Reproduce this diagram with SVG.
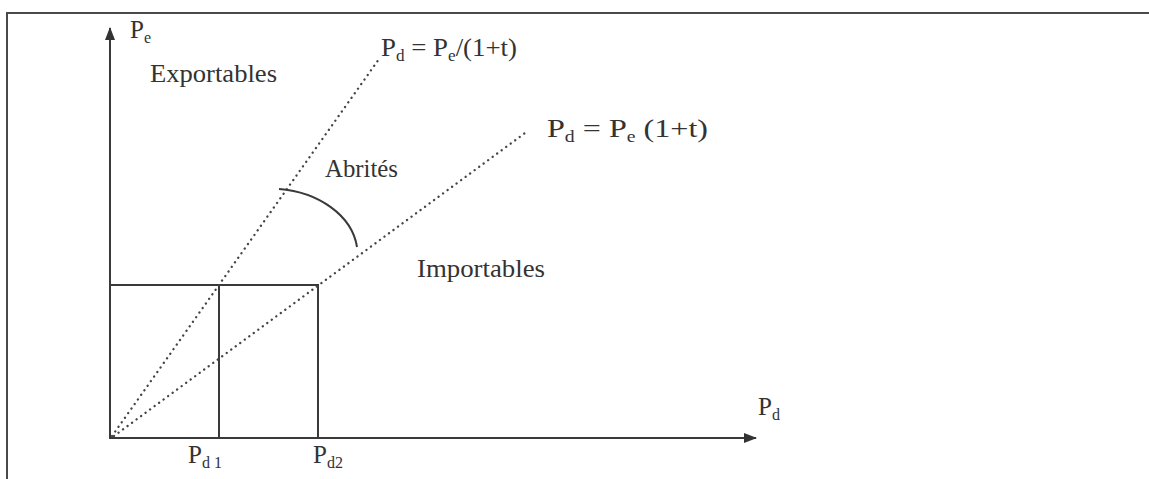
<svg xmlns="http://www.w3.org/2000/svg" width="1149" height="479" viewBox="0 0 1149 479">
  <style>
    .t { font-family: "Liberation Serif", "Times New Roman", serif; font-size: 25px; fill: #333; }
    .sub { font-size: 16px; }
    .solid { stroke: #3a3a3a; stroke-width: 2; fill: none; }
    .dot { stroke: #444; stroke-width: 2.3; stroke-dasharray: 0.1 5.5; stroke-linecap: round; fill: none; }
  </style>
  <defs>
    <marker id="arrow" viewBox="0 0 13 10" refX="12" refY="5" markerWidth="13" markerHeight="10" markerUnits="userSpaceOnUse" orient="auto">
      <path d="M0,0 L13,5 L0,10 Z" fill="#333"/>
    </marker>
  </defs>
  <rect width="1149" height="479" fill="#ffffff"/>
  <g id="frame">
    <path d="M7,479 L7,13 L1149,13" stroke="#4a4a4a" stroke-width="2" fill="none"/>
  </g>
  <g id="boxes">
    <rect x="110" y="285" width="109" height="153" fill="#f4f4f4" class="solid"/>
    <rect x="219" y="285" width="99" height="153" fill="#f6f6f6" class="solid"/>
  </g>
  <g id="connectors">
    <line x1="110" y1="438" x2="110" y2="28" class="solid" marker-end="url(#arrow)"/>
    <line x1="110" y1="438" x2="756" y2="438" class="solid" marker-end="url(#arrow)"/>
    <line x1="112" y1="436" x2="379" y2="59" class="dot"/>
    <line x1="114" y1="436" x2="525" y2="133" class="dot"/>
    <path d="M279,189 C318,192 352,215 357,247" class="solid" stroke-width="2.5"/>
  </g>
  <g id="labels">
    <text class="t" x="130" y="38">P<tspan class="sub" dy="5">e</tspan></text>
    <text class="t" x="150" y="82" textLength="127" lengthAdjust="spacingAndGlyphs">Exportables</text>
    <text class="t" x="381" y="56" textLength="136" lengthAdjust="spacingAndGlyphs">P<tspan class="sub" dy="5">d</tspan><tspan dy="-5"> = P</tspan><tspan class="sub" dy="5">e</tspan><tspan dy="-5">/(1+t)</tspan></text>
    <text class="t" x="547" y="137" style="font-size:26px" textLength="161" lengthAdjust="spacingAndGlyphs">P<tspan class="sub" dy="5">d</tspan><tspan dy="-5"> = P</tspan><tspan class="sub" dy="5">e</tspan><tspan dy="-5"> (1+t)</tspan></text>
    <text class="t" x="325" y="177" textLength="73" lengthAdjust="spacingAndGlyphs">Abrités</text>
    <text class="t" x="417" y="277" textLength="128" lengthAdjust="spacingAndGlyphs">Importables</text>
    <text class="t" x="758" y="415">P<tspan class="sub" dy="5">d</tspan></text>
    <text class="t" x="188" y="463">P<tspan class="sub" dy="5">d 1</tspan></text>
    <text class="t" x="313" y="463">P<tspan class="sub" dy="5">d2</tspan></text>
  </g>
</svg>
